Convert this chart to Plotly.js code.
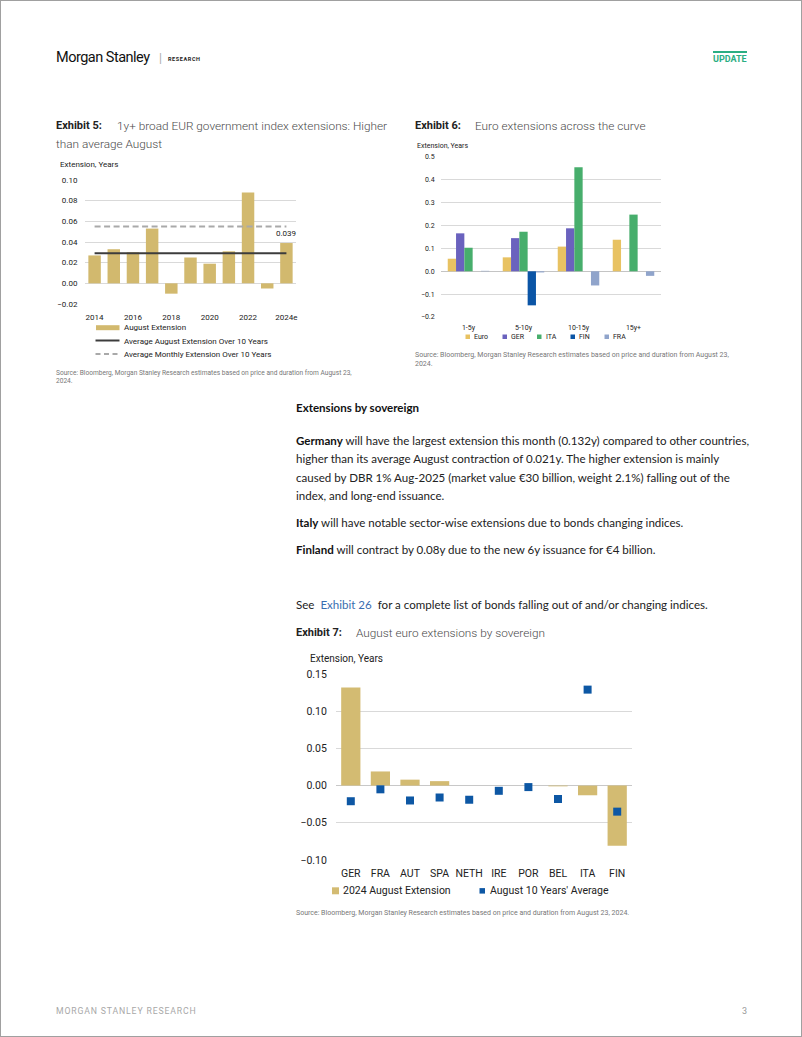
<!DOCTYPE html>
<html><head><meta charset="utf-8">
<script src="https://cdn.plot.ly/plotly-3.0.1.min.js"></script>
<style>
html,body{margin:0;padding:0;background:#fff;}
#page{position:relative;width:802px;height:1037px;box-sizing:border-box;border:1px solid #a0a0a0;overflow:hidden;font-family:Roboto,sans-serif;color:#222;}
.a{position:absolute;white-space:nowrap;}
.exl{position:absolute;left:0;top:0;font-weight:700;font-size:11px;line-height:18px;color:#222;}
.exd{font-weight:300;font-size:11.8px;line-height:18px;color:#4a4a4a;}
.src{font-size:7px;color:#777;font-weight:400;}
.body{font-family:Lato,"Noto Sans",sans-serif;font-size:11.55px;color:#222;}
.body b{font-weight:700;color:#111;}
</style></head>
<body><div id="page">
<div class="a" style="left:55px;top:48px;line-height:18px;font-size:14.5px;letter-spacing:-0.5px;color:#111;">Morgan Stanley</div>
<div class="a" style="left:158px;top:50px;line-height:14px;font-size:12px;color:#aaa;">|</div>
<div class="a" style="left:167px;top:54px;line-height:8px;font-size:5.5px;font-weight:700;letter-spacing:0.6px;color:#222;">RESEARCH</div>
<div class="a" style="left:712px;top:50px;width:34px;height:2px;background:#2bae83;"></div>
<div class="a" style="left:712px;top:53px;line-height:10px;font-size:9px;font-weight:700;color:#2bae83;">UPDATE</div>

<div class="a" style="left:55px;top:116px;"><span class="exl">Exhibit 5:</span></div>
<div class="a exd" style="left:116px;top:116px;">1y+ broad EUR government index extensions: Higher</div>
<div class="a exd" style="left:55px;top:134px;">than average August</div>
<div class="a" style="left:414px;top:116px;"><span class="exl">Exhibit 6:</span></div>
<div class="a exd" style="left:474px;top:116px;">Euro extensions across the curve</div>

<div id="ex5" class="a" style="left:50px;top:150px;width:255px;height:222px;"></div>
<div id="ex6" class="a" style="left:405px;top:135px;width:300px;height:212px;"></div>

<div class="a src" style="left:55px;top:367.5px;line-height:8.5px;font-size:6.6px;">Source: Bloomberg, Morgan Stanley Research estimates based on price and duration from August 23,<br>2024.</div>
<div class="a src" style="left:414px;top:349.5px;line-height:9px;">Source: Bloomberg, Morgan Stanley Research estimates based on price and duration from August 23,<br>2024.</div>

<div class="a body" style="left:295px;top:397.5px;line-height:18px;font-weight:700;color:#111;">Extensions by sovereign</div>
<div id="para1" class="a body" style="left:295px;top:430.5px;line-height:18.5px;"><b>Germany</b> will have the largest extension this month (0.132y) compared to other countries,<br>higher than its average August contraction of 0.021y. The higher extension is mainly<br>caused by DBR 1% Aug-2025 (market value €30 billion, weight 2.1%) falling out of the<br>index, and long-end issuance.</div>
<div class="a body" style="left:295px;top:512.5px;line-height:18.5px;"><b>Italy</b> will have notable sector-wise extensions due to bonds changing indices.</div>
<div class="a body" style="left:295px;top:539.5px;line-height:18.5px;"><b>Finland</b> will contract by 0.08y due to the new 6y issuance for €4 billion.</div>
<div class="a body" style="left:295px;top:594.5px;line-height:18.5px;">See <span style="color:#3a6db0;margin:0 3px;">Exhibit 26</span> for a complete list of bonds falling out of and/or changing indices.</div>

<div class="a" style="left:295px;top:623px;"><span class="exl">Exhibit 7:</span></div>
<div class="a exd" style="left:355px;top:623px;">August euro extensions by sovereign</div>
<div id="ex7" class="a" style="left:290px;top:645px;width:360px;height:255px;"></div>
<div class="a src" style="left:295px;top:907.5px;line-height:9px;">Source: Bloomberg, Morgan Stanley Research estimates based on price and duration from August 23, 2024.</div>

<div class="a" style="left:55px;top:1005px;line-height:10px;font-size:8.7px;letter-spacing:0.85px;color:#a8a8a8;">MORGAN STANLEY RESEARCH</div>
<div class="a" style="left:741px;top:1005px;line-height:10px;font-size:9px;color:#999;">3</div>
</div>
<script>
// ---------- DATA ----------
// Exhibit 5
const ex5Years = ['2014','2015','2016','2017','2018','2019','2020','2021','2022','2023','2024e'];
const ex5AugustExt = [0.027,0.033,0.030,0.053,-0.010,0.025,0.019,0.031,0.088,-0.005,0.039];
const ex5AvgAugust = 0.029;
const ex5AvgMonthly = 0.055;
const ex5TickYears = ['2014','2016','2018','2020','2022','2024e'];
const ex5Names = ['August Extension','Average August Extension Over 10 Years','Average Monthly Extension Over 10 Years'];
// Exhibit 6
const ex6Buckets = ['1-5y','5-10y','10-15y','15y+'];
const ex6Euro = [0.055,0.061,0.108,0.138];
const ex6GER  = [0.166,0.145,0.188,0.000];
const ex6ITA  = [0.103,0.173,0.455,0.248];
const ex6FIN  = [0.000,-0.149,0.000,0.000];
const ex6FRA  = [0.002,-0.005,-0.062,-0.020];
const ex6Names = ['Euro','GER','ITA','FIN','FRA'];
// Exhibit 7
const ex7Countries = ['GER','FRA','AUT','SPA','NETH','IRE','POR','BEL','ITA','FIN'];
const ex7Aug2024 = [0.132,0.019,0.008,0.006,0.000,0.000,0.000,-0.001,-0.013,-0.081];
const ex7Avg10y  = [-0.021,-0.005,-0.020,-0.016,-0.019,-0.007,-0.002,-0.018,0.129,-0.035];
const ex7Names = ['2024 August Extension',"August 10 Years' Average"];
const yTitle = 'Extension, Years';

// ---------- HELPERS ----------
const FONT = 'Roboto, Arial, sans-serif';
function frame(P){
  return {
    margin:{l:P.x0-P.left, r:P.left+P.w-P.x1, t:P.y0-P.top, b:P.top+P.h-P.y1, pad:0},
    px:x=>(x-P.x0)/(P.x1-P.x0),
    py:y=>(P.y1-y)/(P.y1-P.y0)
  };
}
function txt(F,x,y,text,size,opts){
  return Object.assign({xref:'paper',yref:'paper',x:F.px(x),y:F.py(y),text:text,showarrow:false,
    xanchor:'left',yanchor:'middle',font:{family:FONT,size:size,color:'#222'}},opts||{});
}
function rect(F,x0,y0,x1,y1,color){
  return {type:'rect',xref:'paper',yref:'paper',x0:F.px(x0),x1:F.px(x1),y0:F.py(y1),y1:F.py(y0),
    fillcolor:color,line:{width:0}};
}
function hline(F,x0,x1,y,color,width,dash){
  return {type:'line',xref:'paper',yref:'paper',x0:F.px(x0),x1:F.px(x1),y0:F.py(y),y1:F.py(y),
    line:{color:color,width:width,dash:dash||'solid'}};
}
const cfg = {staticPlot:true, displayModeBar:false};
const GRID = '#d9d9d9';

// ---------- EXHIBIT 5 ----------
(function(){
  const P = {left:50, top:150, w:255, h:222, x0:84, x1:295, y0:179.3, y1:303.3};
  const F = frame(P);
  const gold = '#d2b96e';
  const last = ex5Years.length-1;
  const traces = [
    {type:'bar', x:ex5Years, y:ex5AugustExt, marker:{color:gold}, name:ex5Names[0]},
    {type:'scatter', mode:'lines', x:[ex5Years[0],ex5Years[last]], y:[ex5AvgMonthly,ex5AvgMonthly],
      line:{color:'#a9a9a9', width:2, dash:'6px,3.5px'}, name:ex5Names[2]},
    {type:'scatter', mode:'lines', x:[ex5Years[0],ex5Years[last]], y:[ex5AvgAugust,ex5AvgAugust],
      line:{color:'#3c3c3c', width:2}, name:ex5Names[1]}
  ];
  const layout = {
    width:P.w, height:P.h, margin:F.margin, showlegend:false, bargap:0.35,
    paper_bgcolor:'rgba(0,0,0,0)', plot_bgcolor:'rgba(0,0,0,0)', font:{family:FONT},
    xaxis:{type:'category', categoryorder:'array', categoryarray:ex5Years, tickvals:ex5TickYears,
      showgrid:false, zeroline:false, showline:false, ticks:'outside', ticklen:5, tickcolor:'rgba(0,0,0,0)',
      tickfont:{family:FONT,size:8,color:'#222'}, automargin:false, range:[-0.5, last+0.5]},
    yaxis:{range:[-0.02,0.10], dtick:0.02, tickformat:'.2f', showgrid:true, gridcolor:GRID, gridwidth:1,
      zeroline:false, showline:false, ticks:'outside', ticklen:5, tickcolor:'rgba(0,0,0,0)',
      tickfont:{family:FONT,size:8,color:'#222'}, automargin:false},
    annotations:[
      txt(F,57,164,yTitle,8),
      {x:ex5Years[last], y:ex5AugustExt[last], xref:'x', yref:'y', text:ex5AugustExt[last].toFixed(3),
        showarrow:false, yanchor:'bottom', yshift:3, font:{family:FONT,size:8,color:'#222'}},
      txt(F,121,327,ex5Names[0],8),
      txt(F,121,340.3,ex5Names[1],8),
      txt(F,121,353.5,ex5Names[2],8)
    ],
    shapes:[
      rect(F,95,324.5,118.5,329.5,gold),
      hline(F,94.5,118.5,339.8,'#3c3c3c',2),
      hline(F,94.5,118.5,353.3,'#a9a9a9',2,'5px,3.5px')
    ]
  };
  Plotly.newPlot('ex5', traces, layout, cfg);
})();

// ---------- EXHIBIT 6 ----------
(function(){
  const P = {left:405, top:135, w:300, h:212, x0:440, x1:660, y0:156.3, y1:316.3};
  const F = frame(P);
  const colors = ['#e8c262','#6a62be','#47ae6c','#0b55a6','#90a4cb'];
  const series = [ex6Euro, ex6GER, ex6ITA, ex6FIN, ex6FRA];
  const traces = series.map((s,i)=>({type:'bar', x:ex6Buckets, y:s, name:ex6Names[i], marker:{color:colors[i]}}));
  const legX = [464.5, 501.5, 536, 569.5, 603.5];
  const ann = [txt(F,414,145,yTitle,7)];
  const shp = [];
  ex6Names.forEach((n,i)=>{
    shp.push(rect(F,legX[i],333.8,legX[i]+4.5,338.3,colors[i]));
    ann.push(txt(F,legX[i]+6.5,336.2,n,7));
  });
  const layout = {
    width:P.w, height:P.h, margin:F.margin, showlegend:false, barmode:'group', bargap:0.245, bargroupgap:0,
    paper_bgcolor:'rgba(0,0,0,0)', plot_bgcolor:'rgba(0,0,0,0)', font:{family:FONT},
    xaxis:{type:'category', showgrid:false, zeroline:false, showline:false, ticks:'outside', ticklen:4,
      tickcolor:'rgba(0,0,0,0)', tickfont:{family:FONT,size:7,color:'#222'}, automargin:false,
      range:[-0.5, ex6Buckets.length-0.5]},
    yaxis:{range:[-0.2,0.5], dtick:0.1, tickformat:'.1f', showgrid:true, gridcolor:GRID, gridwidth:1,
      zeroline:true, zerolinecolor:'#c4c4c4', zerolinewidth:1, showline:false, ticks:'outside', ticklen:4,
      tickcolor:'rgba(0,0,0,0)', tickfont:{family:FONT,size:7,color:'#222'}, automargin:false},
    annotations:ann, shapes:shp
  };
  Plotly.newPlot('ex6', traces, layout, cfg);
})();

// ---------- EXHIBIT 7 ----------
(function(){
  const P = {left:290, top:645, w:360, h:255, x0:335, x1:631, y0:672.7, y1:859.3};
  const F = frame(P);
  const gold = '#d3bb72', blue = '#0d57a4';
  const traces = [
    {type:'bar', x:ex7Countries, y:ex7Aug2024, name:ex7Names[0], marker:{color:gold}},
    {type:'scatter', mode:'markers', x:ex7Countries, y:ex7Avg10y, name:ex7Names[1],
      marker:{symbol:'square', size:8, color:blue}}
  ];
  const layout = {
    width:P.w, height:P.h, margin:F.margin, showlegend:false, bargap:0.35,
    paper_bgcolor:'rgba(0,0,0,0)', plot_bgcolor:'rgba(0,0,0,0)', font:{family:FONT},
    xaxis:{type:'category', showgrid:false, zeroline:false, showline:false, ticks:'outside', ticklen:3,
      tickcolor:'rgba(0,0,0,0)', tickfont:{family:FONT,size:10.5,color:'#222'}, automargin:false,
      range:[-0.5, ex7Countries.length-0.5]},
    yaxis:{range:[-0.10,0.15], dtick:0.05, tickformat:'.2f', showgrid:true, gridcolor:GRID, gridwidth:1,
      zeroline:true, zerolinecolor:'#c8c8c8', zerolinewidth:1, showline:false, ticks:'outside', ticklen:6,
      tickcolor:'rgba(0,0,0,0)', tickfont:{family:FONT,size:10.5,color:'#222'}, automargin:false},
    annotations:[
      txt(F,306.5,657,yTitle,10),
      txt(F,340,890.3,ex7Names[0],10.5),
      txt(F,487,890.3,ex7Names[1],10.5)
    ],
    shapes:[
      rect(F,331,886.7,338,893.7,gold),
      rect(F,478.5,887.5,484,893,blue)
    ]
  };
  Plotly.newPlot('ex7', traces, layout, cfg);
})();
</script>
</body></html>
